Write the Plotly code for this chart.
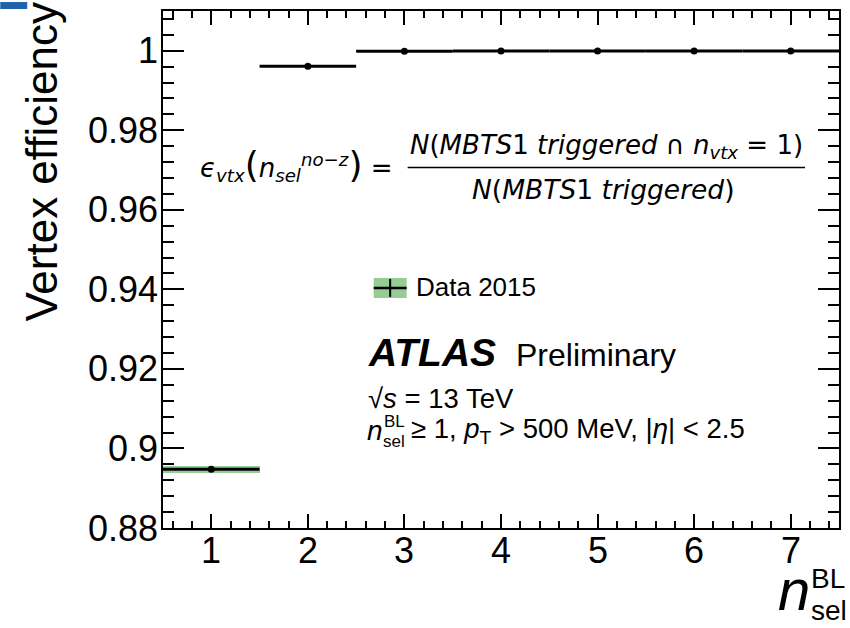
import plotly.graph_objects as go

# ---- data ----
n_sel = [1, 2, 3, 4, 5, 6, 7]
efficiency = [0.8948, 0.9961, 0.99985, 0.99995, 0.99995, 0.99997, 0.99997]
sys_err = [0.0009, 0.0002, 0.0001, 0.0001, 0.0001, 0.0001, 0.0001]
bin_half_width = [0.5] * 7
y_tickvals = [0.88, 0.90, 0.92, 0.94, 0.96, 0.98, 1.0]
y_ticktext = ["0.88", "0.9", "0.92", "0.94", "0.96", "0.98", "1"]
x_tickvals = [1, 2, 3, 4, 5, 6, 7]
x_ticktext = ["1", "2", "3", "4", "5", "6", "7"]

W, H = 850, 628
L, R, T, B = 163, 10, 9, 100
PW, PH = W - L - R, H - T - B


def px(x):
    return (x - L) / PW


def py(y):
    return (H - B - y) / PH


GREEN = "rgba(130,196,130,0.85)"
FONT = "Liberation Sans, Arial, sans-serif"
MATH = "DejaVu Sans, sans-serif"

fig = go.Figure()

fig.add_trace(go.Bar(
    x=n_sel,
    y=[2 * s for s in sys_err],
    base=[e - s for e, s in zip(efficiency, sys_err)],
    width=1.0,
    marker=dict(color=GREEN, line=dict(width=0)),
    showlegend=False,
    hoverinfo="skip",
))

fig.add_trace(go.Scatter(
    x=n_sel,
    y=efficiency,
    mode="markers",
    marker=dict(color="black", size=7),
    error_x=dict(type="data", array=bin_half_width, width=0, thickness=3, color="black"),
    showlegend=False,
))

axis_common = dict(
    showline=True, linecolor="black", linewidth=2, mirror="allticks",
    ticks="inside", tickcolor="black", tickwidth=1.5,
    showgrid=False, zeroline=False,
    tickfont=dict(family=FONT, size=36, color="black"),
)

fig.update_xaxes(
    range=[0.5, 7.5], tickvals=x_tickvals, ticktext=[""] * len(x_tickvals),
    ticklen=14,
    minor=dict(dtick=0.2, tick0=0, ticklen=7, ticks="inside", tickcolor="black", tickwidth=1.5),
    **axis_common,
)
fig.update_yaxes(
    range=[0.88, 1.01], tickvals=y_tickvals, ticktext=[""] * len(y_tickvals),
    ticklen=21,
    minor=dict(dtick=0.004, tick0=0.88, ticklen=11, ticks="inside", tickcolor="black", tickwidth=1.5),
    **axis_common,
)

ann = []
# tick labels (placed as in the reference)
for xv, xt in zip(x_tickvals, x_ticktext):
    ann.append(dict(x=xv, y=py(551), xref="x", yref="paper", text=xt, showarrow=False,
                    font=dict(family=FONT, size=36, color="black"),
                    xanchor="center", yanchor="middle"))
for yv, yt in zip(y_tickvals, y_ticktext):
    ann.append(dict(x=px(160), y=yv, xref="paper", yref="y", text=yt, showarrow=False,
                    font=dict(family=FONT, size=36, color="black"),
                    xanchor="right", yanchor="middle"))

# y-axis title
ann.append(dict(x=px(41), y=py(160), xref="paper", yref="paper", text="Vertex efficiency",
                textangle=-90, showarrow=False, font=dict(family=FONT, size=44, color="black"),
                xanchor="center", yanchor="middle"))
# x-axis title
ann.append(dict(x=px(777), y=py(590), xref="paper", yref="paper", text="<i>n</i>",
                showarrow=False, font=dict(family=FONT, size=58, color="black"),
                xanchor="left", yanchor="middle"))
ann.append(dict(x=px(810), y=py(579), xref="paper", yref="paper", text="BL",
                showarrow=False, font=dict(family=FONT, size=28, color="black"),
                xanchor="left", yanchor="middle"))
ann.append(dict(x=px(810), y=py(611), xref="paper", yref="paper", text="sel",
                showarrow=False, font=dict(family=FONT, size=28, color="black"),
                xanchor="left", yanchor="middle"))

# formula
BIG = "<span style='font-size:36px'>"
ann.append(dict(x=px(198), y=py(164), xref="paper", yref="paper",
                text=("<i>ϵ</i><sub><i>vtx</i></sub>" + BIG + "(</span><i>n</i><sub><i>sel</i></sub>"
                      "<sup><i>no−z</i></sup>" + BIG + ")</span> ="),
                showarrow=False, font=dict(family=MATH, size=26, color="black"),
                xanchor="left", yanchor="middle"))
ann.append(dict(x=px(607), y=py(145), xref="paper", yref="paper",
                text="<i>N</i>(<i>MBTS</i>1 <i>triggered</i> ∩ <i>n</i><sub><i>vtx</i></sub> = 1)",
                showarrow=False, font=dict(family=MATH, size=26, color="black"),
                xanchor="center", yanchor="middle"))
ann.append(dict(x=px(604), y=py(188), xref="paper", yref="paper",
                text="<i>N</i>(<i>MBTS</i>1 <i>triggered</i>)",
                showarrow=False, font=dict(family=MATH, size=26.5, color="black"),
                xanchor="center", yanchor="middle"))

# legend text
ann.append(dict(x=px(414), y=py(286), xref="paper", yref="paper", text="Data 2015",
                showarrow=False, font=dict(family=FONT, size=26, color="black"),
                xanchor="left", yanchor="middle"))
# ATLAS label
ann.append(dict(x=px(366), y=py(352), xref="paper", yref="paper",
                text="<b><i>ATLAS</i></b>",
                showarrow=False, font=dict(family=FONT, size=39, color="black"),
                xanchor="left", yanchor="middle"))
ann.append(dict(x=px(515), y=py(354), xref="paper", yref="paper",
                text="Preliminary",
                showarrow=False, font=dict(family=FONT, size=32, color="black"),
                xanchor="left", yanchor="middle"))
ann.append(dict(x=px(366), y=py(398), xref="paper", yref="paper",
                text="√<i>s</i> = 13 TeV",
                showarrow=False, font=dict(family=FONT, size=27.5, color="black"),
                xanchor="left", yanchor="middle"))
ann.append(dict(x=px(365), y=py(430), xref="paper", yref="paper",
                text="<i>n</i>",
                showarrow=False, font=dict(family=FONT, size=28, color="black"),
                xanchor="left", yanchor="middle"))
ann.append(dict(x=px(382), y=py(421), xref="paper", yref="paper",
                text="BL",
                showarrow=False, font=dict(family=FONT, size=17, color="black"),
                xanchor="left", yanchor="middle"))
ann.append(dict(x=px(381), y=py(441), xref="paper", yref="paper",
                text="sel",
                showarrow=False, font=dict(family=FONT, size=17, color="black"),
                xanchor="left", yanchor="middle"))
ann.append(dict(x=px(409), y=py(430), xref="paper", yref="paper",
                text="≥ 1, <i>p</i><sub>T</sub> > 500 MeV, |<i>η</i>| < 2.5",
                showarrow=False, font=dict(family=FONT, size=27.5, color="black"),
                xanchor="left", yanchor="middle"))

shapes = []
# fraction bar
shapes.append(dict(type="line", xref="paper", yref="paper", x0=px(408), x1=px(806),
                   y0=py(166), y1=py(166), line=dict(color="black", width=1.5)))
# legend symbol
shapes.append(dict(type="rect", xref="paper", yref="paper", x0=px(374), x1=px(407),
                   y0=py(297), y1=py(277), fillcolor=GREEN, line=dict(width=0)))
shapes.append(dict(type="line", xref="paper", yref="paper", x0=px(374), x1=px(407),
                   y0=py(287), y1=py(287), line=dict(color="black", width=2.5)))
shapes.append(dict(type="line", xref="paper", yref="paper", x0=px(390.5), x1=px(390.5),
                   y0=py(296), y1=py(278), line=dict(color="black", width=2)))
# corner artifact
shapes.append(dict(type="rect", xref="paper", yref="paper", x0=px(0), x1=px(27),
                   y0=py(7), y1=py(0), fillcolor="#1f64a8", line=dict(width=0)))

fig.update_layout(
    width=W, height=H,
    margin=dict(l=L, r=R, t=T, b=B),
    paper_bgcolor="white", plot_bgcolor="white",
    annotations=ann, shapes=shapes,
    showlegend=False,
    bargap=0,
)

fig.write_html("out.html")
